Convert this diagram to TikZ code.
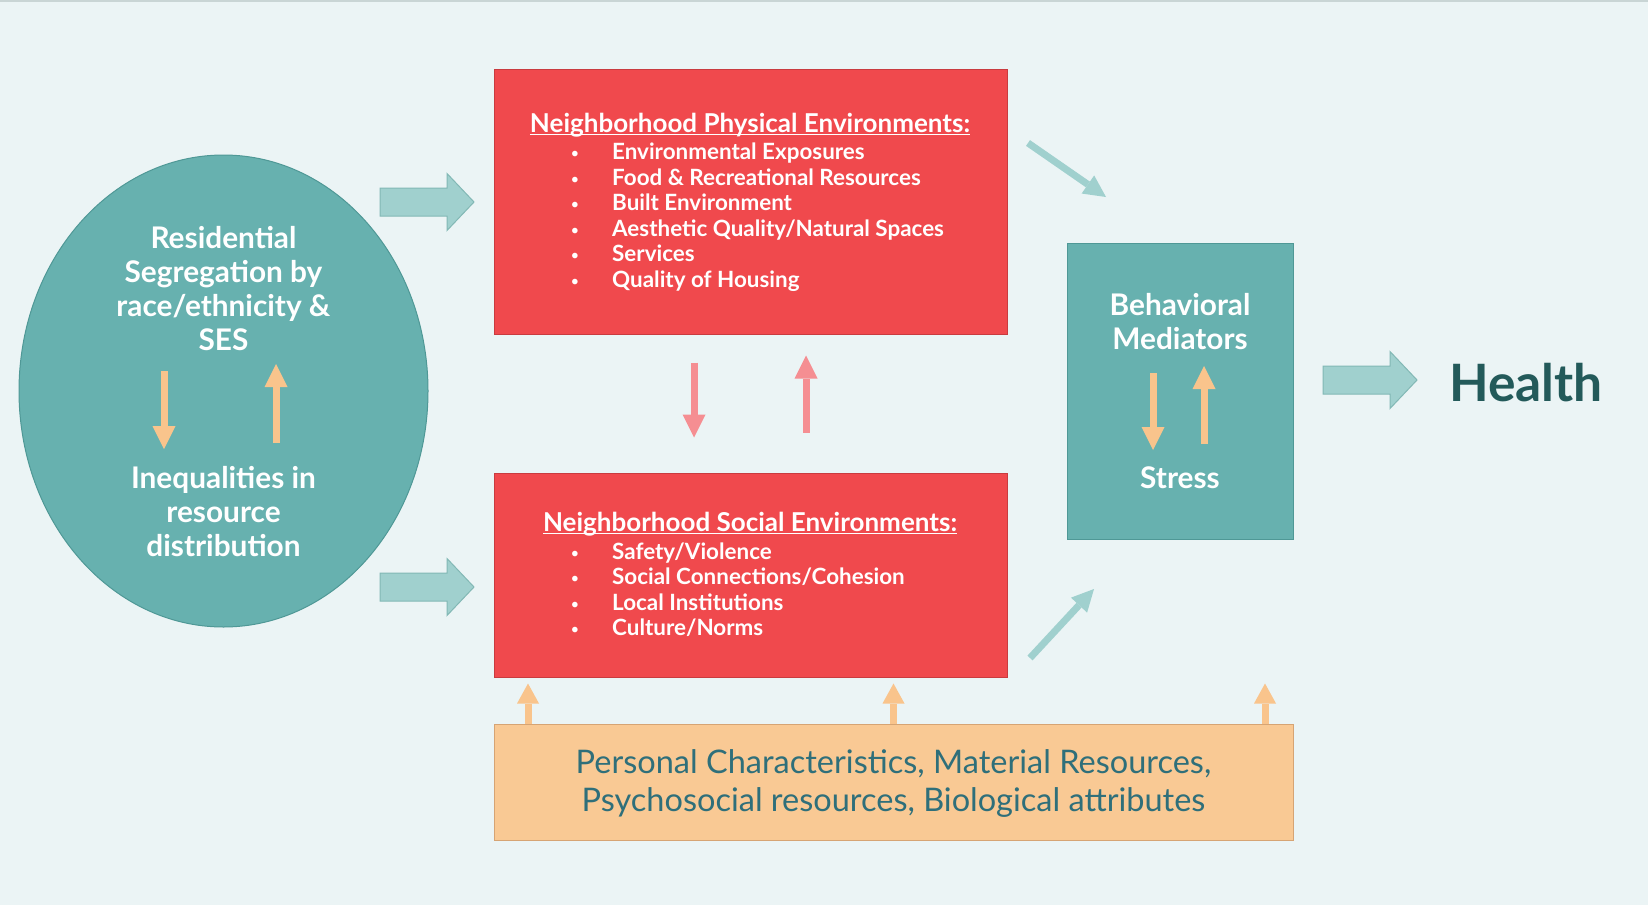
\documentclass[tikz,border=0pt]{standalone}
\usepackage{fontspec}
\setmainfont{Lato}
\usetikzlibrary{arrows.meta,positioning,shapes.geometric}

\definecolor{bgcol}{HTML}{EBF4F5}
\definecolor{topline}{HTML}{C9D5D5}
\definecolor{tealfill}{HTML}{67B1AF}
\definecolor{tealline}{HTML}{4F9896}
\definecolor{redfill}{HTML}{F0494D}
\definecolor{redline}{HTML}{C93B3F}
\definecolor{ltealfill}{HTML}{A0D0CE}
\definecolor{ltealline}{HTML}{82B8B5}
\definecolor{orangearr}{HTML}{F9C48C}
\definecolor{orangefill}{HTML}{F9C994}
\definecolor{orangeline}{HTML}{D6A474}
\definecolor{pinkarr}{HTML}{F58E92}
\definecolor{healthcol}{HTML}{235A5A}
\definecolor{perscol}{HTML}{2F6F7A}

\tikzset{
  box/.style={draw, line width=1pt, inner sep=0pt},
  redbox/.style={box, fill=redfill, draw=redline, minimum width=513pt},
  bigtxt/.style={text=white, font=\bfseries\fontsize{29.8}{34}\selectfont, align=center, inner sep=0pt},
  ttl/.style={text=white, font=\bfseries\fontsize{26}{28}\selectfont, anchor=base, inner sep=0pt},
  item/.style={text=white, font=\bfseries\fontsize{22.4}{25}\selectfont, anchor=base west, inner sep=0pt},
  bull/.style={text=white, font=\fontsize{15}{15}\selectfont, anchor=base, inner sep=0pt},
  orarr/.style={draw=orangearr, line width=7pt, -{Triangle[width=23pt,length=23pt,line width=0pt]}},
  smallorarr/.style={draw=orangearr, line width=7pt, -{Triangle[width=22pt,length=20pt,line width=0pt]}},
  pinkline/.style={draw=pinkarr, line width=7pt, -{Triangle[width=23pt,length=23pt,line width=0pt]}},
  diagarr/.style={draw=ltealfill, line width=7pt, -{Triangle[width=22pt,length=22pt,line width=0pt]}},
  blockarr/.style={fill=ltealfill, draw=ltealline, line width=1pt, line join=miter}
}

% underline just below the baseline
\newcommand\undr[1]{\setbox0\hbox{#1}\rlap{\rule[-2.5pt]{\wd0}{1pt}}\box0}
% fat arrow pointing right, starting at a named coordinate
\newcommand\fatarrow[1]{\draw[blockarr] (#1) ++(0,-14) -- ++(67,0) -- ++(0,-14.5) -- ++(27,28.5) -- ++(-27,28.5) -- ++(0,-14.5) -- ++(-67,0) -- cycle;}

\begin{document}
\begin{tikzpicture}[x=1pt,y=-1pt]
\fill[bgcol] (0,0) rectangle (1648,905);
\useasboundingbox (0,0) rectangle (1648,905);
\fill[topline] (0,0) rectangle (1648,2);

% segregation
\node[ellipse, fill=tealfill, draw=tealline, line width=1pt, minimum width=409pt, minimum height=472pt, inner sep=0pt] (seg) at (223.5,391) {};
\node[bigtxt] (segtxt) at (223.5,289) {Residential\\Segregation by\\race/ethnicity \&\\SES};
\node[bigtxt] (ineq) at (223.5,512) {Inequalities in\\resource\\distribution};
\coordinate (sd1) at (164,371); \coordinate (sd2) at (164,449);
\coordinate (su1) at (276,443); \coordinate (su2) at (276,364);
\draw[orarr] (sd1) -- (sd2);
\draw[orarr] (su1) -- (su2);

% physical environments
\node[redbox, minimum height=265pt] (phys) at (750.5,201.5) {};
\node[ttl] (physttl) at (750,132.5) {\undr{Neighborhood Physical Environments:}};
\foreach \txt [count=\i] in {Environmental Exposures, Food \& Recreational Resources, Built Environment, Aesthetic Quality/Natural Spaces, Services, Quality of Housing}{
  \node[bull] (pb\i) at (575,132.9+25.6*\i) {\textbullet};
  \node[item] (pi\i) at (612,133.9+25.6*\i) {\txt};
}

% social environments
\node[redbox, minimum height=204pt] (soc) at (750.5,575) {};
\node[ttl] (socttl) at (750,531.5) {\undr{Neighborhood Social Environments:}};
\foreach \txt [count=\i] in {Safety/Violence, Social Connections/Cohesion, Local Institutions, Culture/Norms}{
  \node[bull] (sb\i) at (575,533.2+25.3*\i) {\textbullet};
  \node[item] (si\i) at (612,534.2+25.3*\i) {\txt};
}

% between the red boxes
\coordinate (pdx) at (694,0); \coordinate (pux) at (806,0);
\draw[pinkline, shorten <=28pt, shorten >=35pt] (phys.south -| pdx) -- (soc.north -| pdx);
\draw[pinkline, shorten <=40pt, shorten >=21pt] (soc.north -| pux) -- (phys.south -| pux);

% fat arrows
\coordinate (fa1) at (380,202);
\coordinate (fa2) at (380,587);
\coordinate (fa3) at (1323,380);
\fatarrow{fa1}
\fatarrow{fa2}
\fatarrow{fa3}

% mediators
\node[box, fill=tealfill, draw=tealline, minimum width=226pt, minimum height=296pt] (med) at (1180,391) {};
\node[bigtxt] (medtxt) at (1180,322) {Behavioral\\Mediators};
\node[bigtxt, anchor=base] (stress) at (1180,488) {Stress};
\coordinate (md1) at (1153,373); \coordinate (md2) at (1153,450);
\coordinate (mu1) at (1204,444); \coordinate (mu2) at (1204,366);
\draw[orarr] (md1) -- (md2);
\draw[orarr] (mu1) -- (mu2);

\coordinate (dg1) at (1028,143); \coordinate (dg2) at (1106,197);
\coordinate (dg3) at (1030,658); \coordinate (dg4) at (1094,589);
\draw[diagarr] (dg1) -- (dg2);
\draw[diagarr] (dg3) -- (dg4);

\node[text=healthcol, font=\bfseries\fontsize{51.5}{60}\selectfont, inner sep=0pt] (health) at (1526,383) {Health};

% personal characteristics
\node[box, fill=orangefill, draw=orangeline, minimum width=799pt, minimum height=116pt] (pers) at (893.5,782) {};
\node[text=perscol, font=\fontsize{32.5}{38}\selectfont, align=center, inner sep=0pt] (perstxt) at (893.5,783) {Personal Characteristics, Material Resources,\\Psychosocial resources, Biological attributes};
\foreach \dx in {-365.5,0,371.5}
  \draw[smallorarr] ([xshift=\dx pt]pers.north) -- ++(0,-40);
\end{tikzpicture}
\end{document}
